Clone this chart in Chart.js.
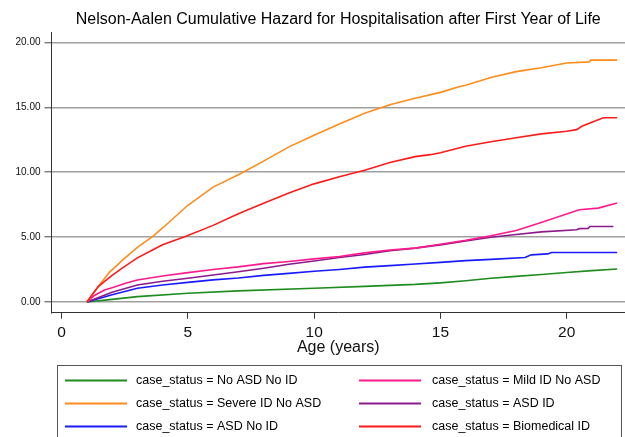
<!DOCTYPE html>
<html>
<head>
<meta charset="utf-8">
<script src="https://cdn.jsdelivr.net/npm/chart.js@4.4.1/dist/chart.umd.min.js"></script>
<style>
  html, body { margin: 0; padding: 0; background: #fff; }
  canvas { display: block; }
</style>
</head>
<body>
<canvas id="chart" width="625" height="437"></canvas>
<script>
// ============================================
// Nelson-Aalen cumulative hazard by case status
// ============================================

const chartTitle = 'Nelson-Aalen Cumulative Hazard for Hospitalisation after First Year of Life';
const xTitle = 'Age (years)';
const xTicks = [0, 5, 10, 15, 20];
const yTicks = [0, 5, 10, 15, 20];

const seriesLabels = [
    'case_status = No ASD No ID',
    'case_status = Mild ID No ASD',
    'case_status = Severe ID No ASD',
    'case_status = ASD ID',
    'case_status = ASD No ID',
    'case_status = Biomedical ID'
];

// ages (years) and cumulative hazard
const agesNoAsdNoId = [1, 2, 3, 5, 7, 10, 12, 14, 15, 16, 17, 18, 19, 20, 21, 22];
const hazNoAsdNoId  = [0, 0.2, 0.41, 0.67, 0.85, 1.06, 1.2, 1.35, 1.47, 1.63, 1.82, 1.97, 2.12, 2.27, 2.41, 2.54];

const agesMildId = [1, 1.3, 1.7, 2, 2.5, 3, 4, 5, 6, 7, 8, 9, 10, 11, 12, 13, 14, 15, 16, 17, 18, 18.9, 19.7, 20.5, 21.25, 22];
const hazMildId  = [0, 0.5, 0.92, 1.1, 1.42, 1.69, 2.0, 2.26, 2.5, 2.7, 2.95, 3.12, 3.32, 3.5, 3.78, 4.0, 4.15, 4.45, 4.75, 5.1, 5.5, 6.07, 6.59, 7.1, 7.23, 7.62];

const agesSevereId = [1, 1.5, 1.9, 2.4, 3, 3.6, 4, 5, 6, 7, 8, 9, 10, 11, 12, 13, 14, 15, 15.7, 16, 17, 18, 19, 20, 20.9, 20.95, 22];
const hazSevereId  = [0, 1.3, 2.3, 3.2, 4.2, 5.04, 5.7, 7.45, 8.85, 9.8, 10.85, 11.95, 12.85, 13.72, 14.55, 15.2, 15.7, 16.15, 16.56, 16.7, 17.3, 17.75, 18.05, 18.42, 18.5, 18.64, 18.64];

const agesAsdId = [1, 2, 3, 4, 5, 6, 7, 8, 9, 10, 11, 12, 13, 14, 15, 16, 17, 18, 19, 20.4, 20.5, 20.85, 20.92, 21.85];
const hazAsdId  = [0, 0.75, 1.31, 1.6, 1.82, 2.08, 2.32, 2.6, 2.9, 3.15, 3.42, 3.65, 3.95, 4.15, 4.4, 4.7, 4.98, 5.2, 5.4, 5.56, 5.65, 5.67, 5.81, 5.81];

const agesAsdNoId = [1, 2, 3, 4, 5, 6, 7, 8, 9, 10, 11, 12, 13, 14, 15, 16, 17, 18.35, 18.6, 19.25, 19.4, 22];
const hazAsdNoId  = [0, 0.55, 1.05, 1.3, 1.51, 1.7, 1.85, 2.05, 2.2, 2.36, 2.5, 2.68, 2.8, 2.92, 3.05, 3.18, 3.28, 3.42, 3.63, 3.7, 3.81, 3.81];

const agesBiomedId = [1, 1.45, 2, 2.4, 3, 3.6, 4, 4.9, 6, 7, 8, 9, 10, 11, 12, 13, 14, 14.6, 15, 16, 17, 18, 19, 20, 20.4, 20.6, 21, 21.45, 22];
const hazBiomedId  = [0, 1.18, 2.05, 2.6, 3.4, 4.0, 4.4, 5.04, 5.9, 6.8, 7.6, 8.4, 9.1, 9.65, 10.15, 10.75, 11.2, 11.35, 11.5, 12.0, 12.35, 12.65, 12.95, 13.15, 13.28, 13.54, 13.85, 14.19, 14.19];

const seriesAges = [agesNoAsdNoId, agesMildId, agesSevereId, agesAsdId, agesAsdNoId, agesBiomedId];
const seriesHaz  = [hazNoAsdNoId, hazMildId, hazSevereId, hazAsdId, hazAsdNoId, hazBiomedId];
const seriesColors = ['#1e8c1e', '#ff1a8c', '#ff8c1a', '#8c1a8c', '#1a1aff', '#ff1a1a'];

const FONT = "'Liberation Sans', Arial, sans-serif";

// title + two-column legend drawn in the reserved margins
const stataDecor = {
    id: 'stataDecor',
    afterDraw(chart) {
        const ctx = chart.ctx;
        const area = chart.chartArea;
        ctx.save();

        ctx.fillStyle = '#000';
        ctx.font = '16px ' + FONT;
        ctx.textAlign = 'center';
        ctx.textBaseline = 'middle';
        ctx.fillText(chartTitle, (area.left + area.right) / 2, 20);

        // legend frame
        ctx.strokeStyle = '#555';
        ctx.lineWidth = 1;
        ctx.strokeRect(57.5, 365.5, 564, 90);

        const lineX = [65, 359];
        const textX = [136, 432];
        const rowY = [380.5, 403.5, 426.5];
        ctx.font = '12.5px ' + FONT;
        ctx.textAlign = 'left';
        chart.data.datasets.forEach((ds, i) => {
            const col = i % 2;
            const row = Math.floor(i / 2);
            ctx.strokeStyle = ds.borderColor;
            ctx.lineWidth = 2;
            ctx.beginPath();
            ctx.moveTo(lineX[col], rowY[row]);
            ctx.lineTo(lineX[col] + 62, rowY[row]);
            ctx.stroke();
            ctx.fillStyle = '#000';
            ctx.fillText(ds.label, textX[col], rowY[row]);
        });
        ctx.restore();
    }
};

const drawOrder = [0, 4, 3, 1, 2, 5];

const datasets = seriesLabels.map((label, i) => ({
    label: label,
    data: seriesAges[i].map((a, j) => ({ x: a, y: seriesHaz[i][j] })),
    borderColor: seriesColors[i],
    backgroundColor: seriesColors[i],
    borderWidth: 1.6,
    pointRadius: 0,
    tension: 0,
    fill: false,
    order: 6 - drawOrder.indexOf(i)
}));

new Chart(document.getElementById('chart').getContext('2d'), {
    type: 'line',
    data: { datasets: datasets },
    options: {
        responsive: false,
        animation: false,
        devicePixelRatio: 1,
        layout: { padding: { top: 32.7, bottom: 75, left: 0, right: 0 } },
        plugins: {
            legend: { display: false },
            title: { display: false },
            tooltip: { enabled: false }
        },
        scales: {
            x: {
                type: 'linear',
                min: -0.4,
                max: 22.31,
                afterBuildTicks: scale => { scale.ticks = xTicks.map(v => ({ value: v })); },
                afterFit: scale => { scale.height = 49.3; },
                border: { color: '#333', width: 1 },
                grid: { drawOnChartArea: false, tickLength: 6, tickColor: '#333' },
                ticks: {
                    color: '#111',
                    padding: 5,
                    maxRotation: 0,
                    font: { family: FONT, size: 15.5 }
                },
                title: {
                    display: true,
                    text: xTitle,
                    color: '#111',
                    padding: { top: 0, bottom: 5 },
                    font: { family: FONT, size: 16 }
                }
            },
            y: {
                min: -0.83,
                max: 20.75,
                afterBuildTicks: scale => { scale.ticks = yTicks.map(v => ({ value: v })); },
                afterFit: scale => { scale.width = 51.5; },
                border: { color: '#333', width: 1 },
                grid: { color: '#a0a0a0', lineWidth: 1.6, tickLength: 7, tickColor: '#444', tickWidth: 1 },
                ticks: {
                    color: '#111',
                    padding: 4,
                    font: { family: FONT, size: 10 },
                    callback: v => Number(v).toFixed(2)
                }
            }
        }
    },
    plugins: [stataDecor]
});
</script>
</body>
</html>
